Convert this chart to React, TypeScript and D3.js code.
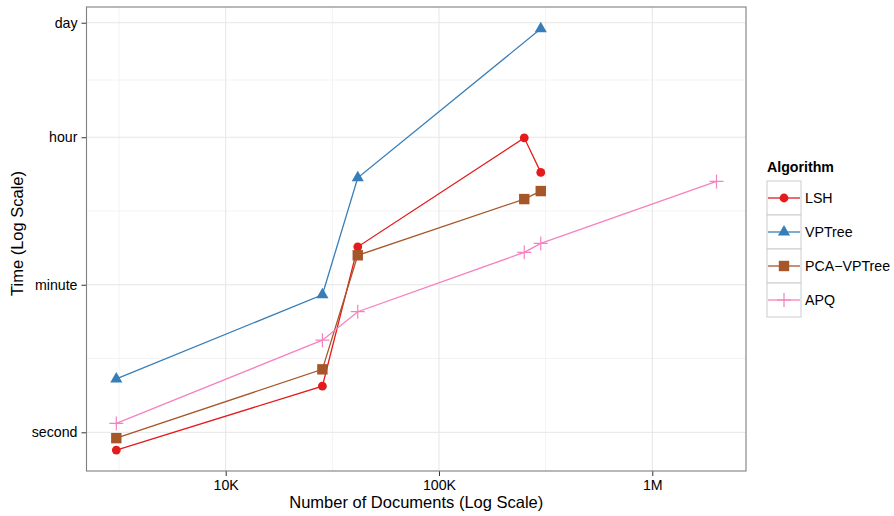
import * as d3 from "d3";
import React, { useEffect, useRef } from "react";

// number of documents (x positions shared by the series)
const docs = [3070, 28400, 41600, 251000, 300000, 2000000];

const seriesNames = ["LSH", "VPTree", "PCA-VPTree", "APQ"];
const colors = ["#E41A1C", "#377EB8", "#A65628", "#F781BF"];

// times in seconds
const lshDocs = [docs[0], docs[1], docs[2], docs[3], docs[4]];
const lshTime = [0.61, 3.6, 172, 3540, 1357];
const vpDocs = [docs[0], docs[1], docs[2], docs[4]];
const vpTime = [4.4, 45.5, 1167, 72900];
const pcaDocs = [docs[0], docs[1], docs[2], docs[3], docs[4]];
const pcaTime = [0.85, 5.74, 136, 647, 808];
const apqDocs = docs;
const apqTime = [1.28, 12.9, 28.4, 147.5, 189, 1057];

const xTicks = [1e4, 1e5, 1e6];
const xTickLabels = ["10K", "100K", "1M"];
const xMinor = [Math.pow(10, 3.5), Math.pow(10, 4.5), Math.pow(10, 5.5)];
const yTicks = [1, 60, 3600, 86400];
const yTickLabels = ["second", "minute", "hour", "day"];

export default function App() {
  const ref = useRef<SVGSVGElement>(null);

  useEffect(() => {
    document.body.style.margin = "0";
    const svg = d3.select(ref.current);
    svg.selectAll("*").remove();

    const width = 894,
      height = 516;
    const panel = { left: 86.5, top: 7, right: 746, bottom: 471 };
    const font = "'Liberation Sans', Arial, Helvetica, sans-serif";
    const small = "14.2px";

    const x = d3
      .scaleLog()
      .domain([Math.pow(10, 3.3474), Math.pow(10, 6.4393)])
      .range([panel.left, panel.right]);
    const y = d3
      .scaleLog()
      .domain([Math.pow(10, -0.4664), Math.pow(10, 5.126)])
      .range([panel.bottom, panel.top]);

    svg.attr("width", width).attr("height", height);
    svg.append("rect").attr("width", width).attr("height", height).attr("fill", "white");

    // y minor breaks: midpoints between majors in log space
    const yLog = yTicks.map((d) => Math.log10(d));
    const yMinor: number[] = [];
    for (let i = 0; i < yLog.length - 1; i++) yMinor.push(Math.pow(10, (yLog[i] + yLog[i + 1]) / 2));

    const grid = svg.append("g");
    grid.selectAll(".xminor").data(xMinor).enter().append("line")
      .attr("x1", (d) => x(d)).attr("x2", (d) => x(d))
      .attr("y1", panel.top).attr("y2", panel.bottom)
      .attr("stroke", "#f3f3f3").attr("stroke-width", 1);
    grid.selectAll(".yminor").data(yMinor).enter().append("line")
      .attr("y1", (d) => y(d)).attr("y2", (d) => y(d))
      .attr("x1", panel.left).attr("x2", panel.right)
      .attr("stroke", "#f3f3f3").attr("stroke-width", 1);
    grid.selectAll(".xmajor").data(xTicks).enter().append("line")
      .attr("x1", (d) => x(d)).attr("x2", (d) => x(d))
      .attr("y1", panel.top).attr("y2", panel.bottom)
      .attr("stroke", "#e6e6e6").attr("stroke-width", 1);
    grid.selectAll(".ymajor").data(yTicks).enter().append("line")
      .attr("y1", (d) => y(d)).attr("y2", (d) => y(d))
      .attr("x1", panel.left).attr("x2", panel.right)
      .attr("stroke", "#e6e6e6").attr("stroke-width", 1);

    // axes
    const xAxis = d3.axisBottom(x).tickValues(xTicks)
      .tickFormat((d, i) => xTickLabels[i]).tickSize(5).tickPadding(4);
    const gx = svg.append("g")
      .attr("transform", "translate(0," + panel.bottom + ")")
      .call(xAxis);
    gx.select(".domain").remove();
    gx.selectAll("line").attr("stroke", "#333333");
    gx.selectAll("text").attr("font-size", small).attr("font-family", font).attr("fill", "#000");

    const yAxis = d3.axisLeft(y).tickValues(yTicks)
      .tickFormat((d, i) => yTickLabels[i]).tickSize(5).tickPadding(4);
    const gy = svg.append("g")
      .attr("transform", "translate(" + panel.left + ",0)")
      .call(yAxis);
    gy.select(".domain").remove();
    gy.selectAll("line").attr("stroke", "#333333");
    gy.selectAll("text").attr("font-size", small).attr("font-family", font).attr("fill", "#000");

    // series
    const series = [
      { docs: lshDocs, time: lshTime, shape: "circle" },
      { docs: vpDocs, time: vpTime, shape: "triangle" },
      { docs: pcaDocs, time: pcaTime, shape: "square" },
      { docs: apqDocs, time: apqTime, shape: "plus" },
    ];

    const line = d3.line<[number, number]>()
      .x((d) => x(d[0]))
      .y((d) => y(d[1]));

    const drawMarker = (g: any, shape: string, color: string) => {
      if (shape === "circle") {
        g.append("circle").attr("r", 4.4).attr("fill", color);
      } else if (shape === "triangle") {
        g.append("path").attr("d", d3.symbol().type(d3.symbolTriangle).size(64)()).attr("fill", color);
      } else if (shape === "square") {
        g.append("rect").attr("x", -5.2).attr("y", -5.2).attr("width", 10.4).attr("height", 10.4).attr("fill", color);
      } else {
        g.append("path").attr("d", "M-7,0H7M0,-7V7").attr("stroke", color).attr("stroke-width", 1.2).attr("fill", "none");
      }
    };

    series.forEach((s, i) => {
      const pts: [number, number][] = s.docs.map((d, j) => [d, s.time[j]]);
      svg.append("path")
        .datum(pts)
        .attr("d", line)
        .attr("fill", "none")
        .attr("stroke", colors[i])
        .attr("stroke-width", 1.3);
    });
    series.forEach((s, i) => {
      s.docs.forEach((d, j) => {
        const g = svg.append("g").attr("transform", "translate(" + x(d) + "," + y(s.time[j]) + ")");
        drawMarker(g, s.shape, colors[i]);
      });
    });

    // panel border
    svg.append("rect")
      .attr("x", panel.left).attr("y", panel.top)
      .attr("width", panel.right - panel.left).attr("height", panel.bottom - panel.top)
      .attr("fill", "none").attr("stroke", "#7f7f7f").attr("stroke-width", 1.1);

    // axis titles
    svg.append("text")
      .attr("x", (panel.left + panel.right) / 2).attr("y", 508)
      .attr("text-anchor", "middle").attr("font-size", "16.5px").attr("font-family", font)
      .text("Number of Documents (Log Scale)");
    svg.append("text")
      .attr("transform", "translate(23,233.5) rotate(-90)")
      .attr("text-anchor", "middle").attr("font-size", "16.5px").attr("font-family", font)
      .text("Time (Log Scale)");

    // legend
    const legend = svg.append("g").attr("transform", "translate(767,0)");
    legend.append("text")
      .attr("x", 0).attr("y", 172)
      .attr("font-size", small).attr("font-weight", "bold").attr("font-family", font)
      .text("Algorithm");
    const keySize = 34;
    seriesNames.forEach((name, i) => {
      const top = 181 + i * keySize;
      legend.append("rect")
        .attr("x", 0).attr("y", top).attr("width", keySize).attr("height", keySize)
        .attr("fill", "white").attr("stroke", "#cccccc").attr("stroke-width", 1);
      legend.append("line")
        .attr("x1", 1).attr("x2", keySize - 1)
        .attr("y1", top + keySize / 2).attr("y2", top + keySize / 2)
        .attr("stroke", colors[i]).attr("stroke-width", 1.3);
      const g = legend.append("g").attr("transform", "translate(" + keySize / 2 + "," + (top + keySize / 2) + ")");
      drawMarker(g, series[i].shape, colors[i]);
      legend.append("text")
        .attr("x", keySize + 4).attr("y", top + keySize / 2)
        .attr("dy", "0.35em")
        .attr("font-size", small).attr("font-family", font)
        .text(name.replace("-", "\u2212"));
    });
  }, []);

  return (
    <div>
      <svg ref={ref}></svg>
    </div>
  );
}
